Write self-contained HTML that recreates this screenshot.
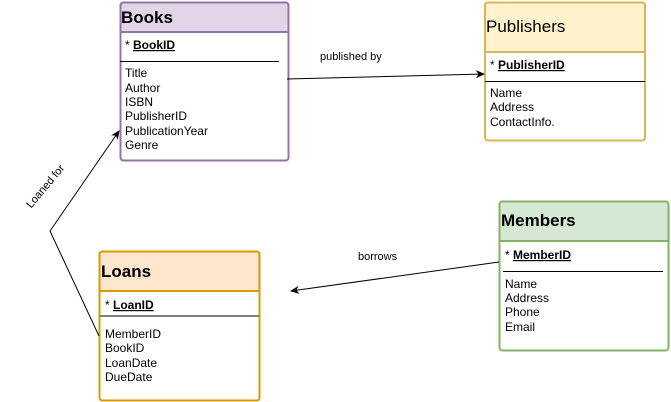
<!DOCTYPE html>
<html><head><meta charset="utf-8"><style>
html,body{margin:0;padding:0;background:#fff;}
svg{display:block;font-family:"Liberation Sans",Arial,sans-serif;}
</style></head><body>
<svg width="671" height="402" viewBox="0 0 671 402" xmlns="http://www.w3.org/2000/svg">
<defs>
<marker id="ar" markerWidth="10" markerHeight="10" refX="8" refY="5" orient="auto" markerUnits="userSpaceOnUse">
<path d="M0,1 L9,5 L0,9 L2.5,5 Z" fill="#000"/>
</marker>
</defs>
<!-- Books -->
<rect x="120.5" y="2.5" width="168" height="158" rx="3" fill="#fff" stroke="#9673a6" stroke-width="2"/>
<path d="M120.5,32 V5.5 a3,3 0 0 1 3,-3 H285.5 a3,3 0 0 1 3,3 V32 Z" fill="#e1d5e7" stroke="#9673a6" stroke-width="2"/>
<text x="121" y="23" font-size="17" font-weight="bold">Books</text>
<text x="125" y="49" font-size="12">* <tspan text-decoration="underline" font-weight="bold">BookID</tspan></text>
<line x1="120" y1="61.5" x2="279" y2="61.5" stroke="#000" stroke-width="1"/>
<g font-size="12"><text x="125" y="77">Title</text><text x="125" y="92">Author</text><text x="125" y="106">ISBN</text><text x="125" y="120">PublisherID</text><text x="125" y="135">PublicationYear</text><text x="125" y="149">Genre</text></g>
<!-- Publishers -->
<rect x="485" y="2.5" width="160" height="138" rx="3" fill="#fff" stroke="#d6b656" stroke-width="2"/>
<path d="M485,52 V5.5 a3,3 0 0 1 3,-3 H642 a3,3 0 0 1 3,3 V52 Z" fill="#fff2cc" stroke="#d6b656" stroke-width="2"/>
<text x="486" y="32" font-size="17">Publishers</text>
<text x="490" y="69" font-size="12">* <tspan text-decoration="underline" font-weight="bold">PublisherID</tspan></text>
<line x1="485" y1="81.5" x2="645" y2="81.5" stroke="#000" stroke-width="1"/>
<g font-size="12"><text x="490" y="97">Name</text><text x="490" y="111">Address</text><text x="490" y="126">ContactInfo.</text></g>
<!-- Members -->
<rect x="499.5" y="201.5" width="169" height="149" rx="3" fill="#fff" stroke="#82b366" stroke-width="2"/>
<path d="M499.5,241 V204.5 a3,3 0 0 1 3,-3 H665.5 a3,3 0 0 1 3,3 V241 Z" fill="#d5e8d4" stroke="#82b366" stroke-width="2"/>
<text x="501" y="226" font-size="17" font-weight="bold">Members</text>
<text x="505" y="259" font-size="12">* <tspan text-decoration="underline" font-weight="bold">MemberID</tspan></text>
<line x1="503" y1="271.5" x2="663" y2="271.5" stroke="#000" stroke-width="1"/>
<g font-size="12"><text x="505" y="288">Name</text><text x="505" y="302">Address</text><text x="505" y="316">Phone</text><text x="505" y="331">Email</text></g>
<!-- Loans -->
<rect x="99.5" y="251.5" width="160" height="149" rx="3" fill="#fff" stroke="#d79b00" stroke-width="2"/>
<path d="M99.5,291 V254.5 a3,3 0 0 1 3,-3 H256.5 a3,3 0 0 1 3,3 V291 Z" fill="#ffe6cc" stroke="#d79b00" stroke-width="2"/>
<text x="101" y="277" font-size="17" font-weight="bold">Loans</text>
<text x="105" y="309" font-size="12">* <tspan text-decoration="underline" font-weight="bold">LoanID</tspan></text>
<line x1="99.5" y1="316" x2="259.5" y2="316" stroke="#808080" stroke-width="2"/>
<g font-size="12"><text x="105" y="338">MemberID</text><text x="105" y="352">BookID</text><text x="105" y="367">LoanDate</text><text x="105" y="381">DueDate</text></g>
<!-- connectors -->
<line x1="287" y1="79" x2="484" y2="74" stroke="#000" stroke-width="1" marker-end="url(#ar)"/>
<text x="320" y="60" font-size="11">published by</text>
<line x1="499" y1="262" x2="291" y2="291" stroke="#000" stroke-width="1" marker-end="url(#ar)"/>
<text x="358" y="260" font-size="11">borrows</text>
<polyline points="99,336 50,231 119,131" fill="none" stroke="#000" stroke-width="1" marker-end="url(#ar)"/>
<text x="45" y="190" font-size="11" text-anchor="middle" transform="rotate(-50 45 186)">Loaned for</text>
</svg>
</body></html>
